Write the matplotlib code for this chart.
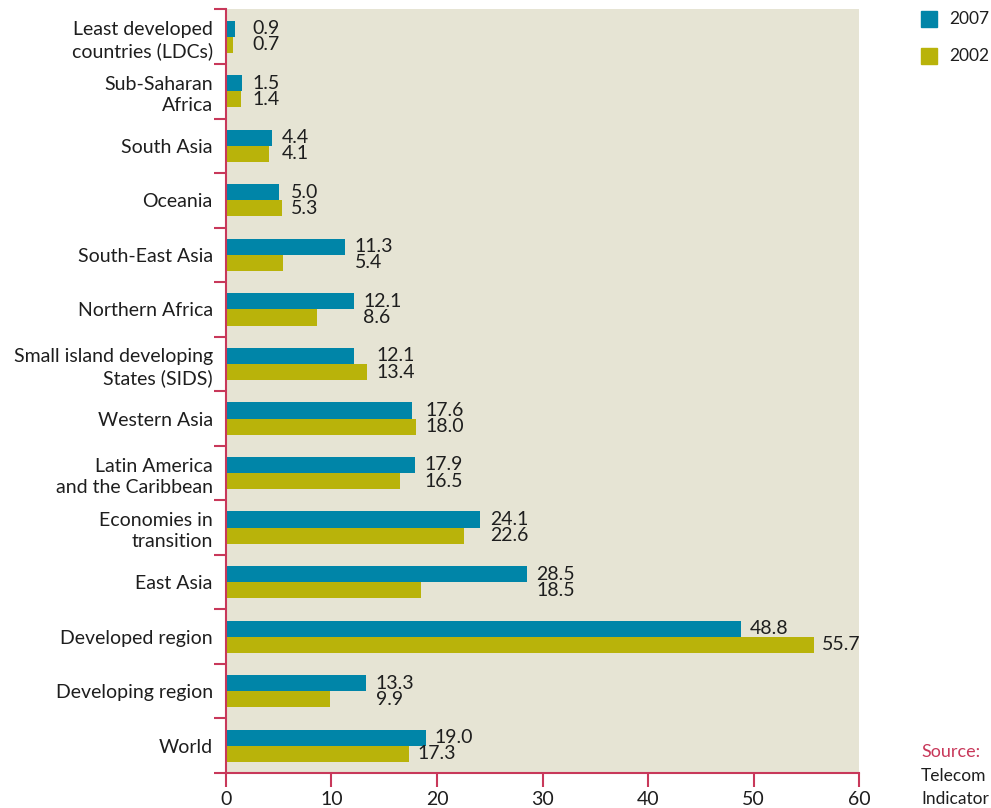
import matplotlib.pyplot as plt
import numpy as np

regions = ['Least developed\ncountries (LDCs)', 'Sub-Saharan\nAfrica', 'South Asia', 'Oceania',
           'South-East Asia', 'Northern Africa', 'Small island developing\nStates (SIDS)',
           'Western Asia', 'Latin America\nand the Caribbean', 'Economies in\ntransition',
           'East Asia', 'Developed region', 'Developing region', 'World']
y2007 = [0.9, 1.5, 4.4, 5.0, 11.3, 12.1, 12.1, 17.6, 17.9, 24.1, 28.5, 48.8, 13.3, 19.0]
y2002 = [0.7, 1.4, 4.1, 5.3, 5.4, 8.6, 13.4, 18.0, 16.5, 22.6, 18.5, 55.7, 9.9, 17.3]
xticks = [0, 10, 20, 30, 40, 50, 60]

plt.rcParams['font.family'] = ['Lato', 'DejaVu Sans']

teal = '#0085a8'
olive = '#b9b30a'
red = '#c8385a'
beige = '#e6e4d4'
ink = '#1e1e1e'

fig = plt.figure(figsize=(9.91, 8.08), dpi=100)
ax = fig.add_axes([0.228, 0.0433, 0.639, 0.945])
ax.set_facecolor(beige)

n = len(regions)
y = np.arange(n)
h = 0.295
ax.barh(y - h / 2, y2007, height=h, color=teal)
ax.barh(y + h / 2, y2002, height=h, color=olive)

# value labels, stacked next to the longer bar (except where they sit at their own bar)
for i in range(n):
    if regions[i] in ('Developed region', 'World'):
        x07 = y2007[i] + 0.8
        x02 = y2002[i] + 0.8
    else:
        x07 = x02 = max(2.5, max(y2007[i], y2002[i]) + 0.9)
    ax.text(x07, y[i] - h / 2, '%.1f' % y2007[i], va='center', ha='left', fontsize=14, color=ink)
    ax.text(x02, y[i] + h / 2, '%.1f' % y2002[i], va='center', ha='left', fontsize=14, color=ink)

ax.set_xlim(0, 60)
ax.set_ylim(n - 0.5, -0.5)
ax.set_xticks(xticks)
ax.set_yticks(y)
ax.set_yticklabels(regions, fontsize=14, linespacing=1.3, color=ink)
ax.set_yticks(np.arange(-0.5, n, 1), minor=True)
ax.tick_params(axis='y', which='major', length=0, pad=9.5)
ax.tick_params(axis='y', which='minor', length=9, width=1.5, color=red, direction='out')
ax.tick_params(axis='x', length=10, width=1.5, color=red, labelsize=14, labelcolor=ink, pad=3)
for s in ['top', 'right']:
    ax.spines[s].set_visible(False)
for s in ['left', 'bottom']:
    ax.spines[s].set_color(red)
    ax.spines[s].set_linewidth(1.5)

# legend
fig.patches.append(plt.Rectangle((921 / 991, 1 - 27 / 808), 16 / 991, 16 / 808,
                                 transform=fig.transFigure, color=teal))
fig.patches.append(plt.Rectangle((921 / 991, 1 - 64 / 808), 16 / 991, 16 / 808,
                                 transform=fig.transFigure, color=olive))
fig.text(949 / 991, 1 - 19 / 808, '2007', fontsize=12.5, va='center', color=ink)
fig.text(949 / 991, 1 - 56 / 808, '2002', fontsize=12.5, va='center', color=ink)

fig.text(921 / 991, 1 - 752 / 808, 'Source:', fontsize=13, va='center', color=red)
fig.text(921 / 991, 1 - 776 / 808, 'Telecom', fontsize=12.5, va='center', color=ink)
fig.text(921 / 991, 1 - 799 / 808, 'Indicator', fontsize=12.5, va='center', color=ink)

fig.savefig('out.png', dpi=100)
